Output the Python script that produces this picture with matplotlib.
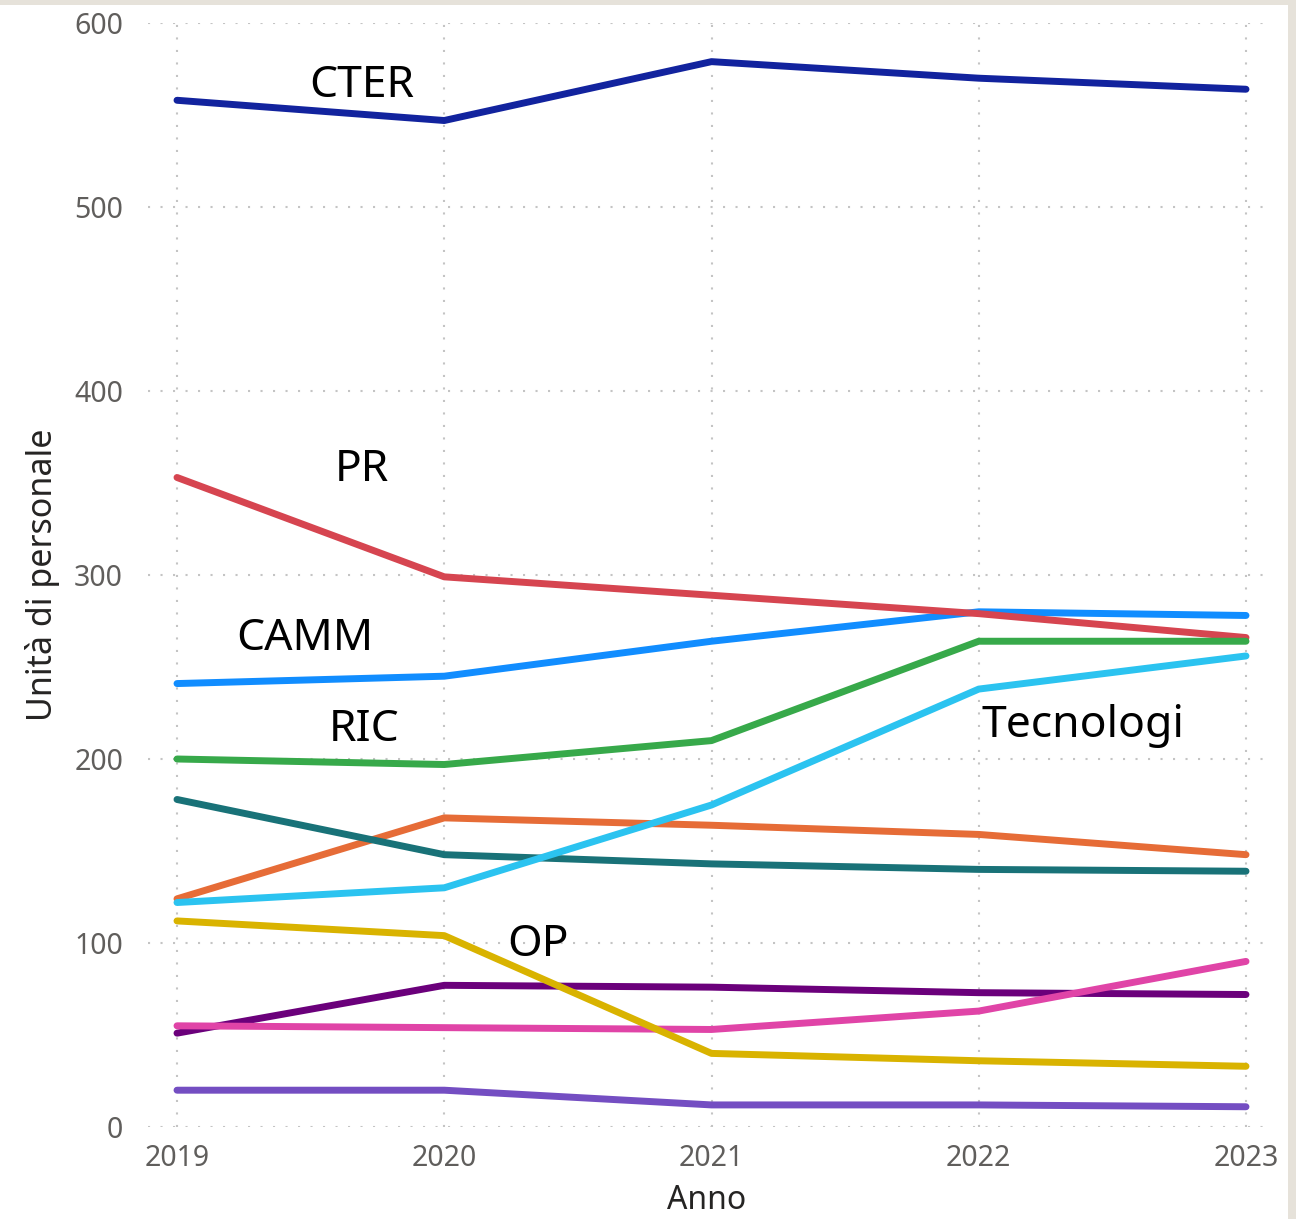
import matplotlib.pyplot as plt
from matplotlib.patches import Rectangle

anni = [2019, 2020, 2021, 2022, 2023]

# unità di personale per profilo
cter = [558, 547, 579, 570, 564]
pr = [353, 299, 289, 279, 266]
camm = [241, 245, 264, 280, 278]
ric = [200, 197, 210, 264, 264]
tecnologi = [122, 130, 175, 238, 256]
arancio = [124, 168, 164, 159, 148]
verde_petrolio = [178, 148, 143, 140, 139]
op = [112, 104, 40, 36, 33]
viola_scuro = [51, 77, 76, 73, 72]
rosa = [55, 54, 53, 63, 90]
viola = [20, 20, 12, 12, 11]

serie = [
    (viola, '#744EC2'),
    (viola_scuro, '#6B007B'),
    (rosa, '#E044A7'),
    (op, '#D9B300'),
    (arancio, '#E66C37'),
    (verde_petrolio, '#197278'),
    (tecnologi, '#2BC3F0'),
    (camm, '#118DFF'),
    (pr, '#D64550'),
    (ric, '#37A94A'),
    (cter, '#12239E'),
]

etichette = [
    ('CTER', 2019.69, 566),
    ('PR', 2019.69, 357),
    ('CAMM', 2019.48, 265),
    ('RIC', 2019.70, 216),
    ('Tecnologi', 2022.39, 218),
    ('OP', 2020.35, 99),
]

fig = plt.figure(figsize=(12.96, 12.19), dpi=100)
fig.patch.set_facecolor('#e6e2da')
sfondo = Rectangle((0, 0), 1288 / 1296, 1214 / 1219, transform=fig.transFigure,
                   facecolor='white', edgecolor='none', zorder=-10)
fig.add_artist(sfondo)

ax = fig.add_axes([148 / 1296, 92 / 1219, 1117 / 1296, 1104 / 1219])
ax.set_facecolor('none')

for valori, colore in serie:
    ax.plot(anni, valori, color=colore, linewidth=5, solid_capstyle='round',
            solid_joinstyle='round')

for testo, x, y in etichette:
    ax.text(x, y, testo, fontsize=32, color='black', ha='center', va='center',
            family='Noto Sans')

ax.set_xlim(2019 - 29 / 267.25, 2023 + 19 / 267.25)
ax.set_ylim(0, 600)
ax.set_xticks(anni)
ax.set_yticks([0, 100, 200, 300, 400, 500, 600])
ax.grid(True, color='#c4c4c4', linestyle=(0, (1, 5)), linewidth=1.5)
ax.set_axisbelow(True)
for s in ax.spines.values():
    s.set_visible(False)
ax.tick_params(length=0, labelsize=20.5, labelcolor='#605e5c')
ax.tick_params(axis='y', pad=18)
ax.tick_params(axis='x', pad=12)
for lab in ax.get_xticklabels() + ax.get_yticklabels():
    lab.set_family('Noto Sans')

ax.set_xlabel('Anno', fontsize=23, color='#252423', family='Noto Sans', labelpad=8)
ax.set_ylabel('Unità di personale', fontsize=24.5, color='#252423', family='Noto Sans',
              labelpad=10)

fig.savefig('out.png', dpi=100, facecolor=fig.get_facecolor())
